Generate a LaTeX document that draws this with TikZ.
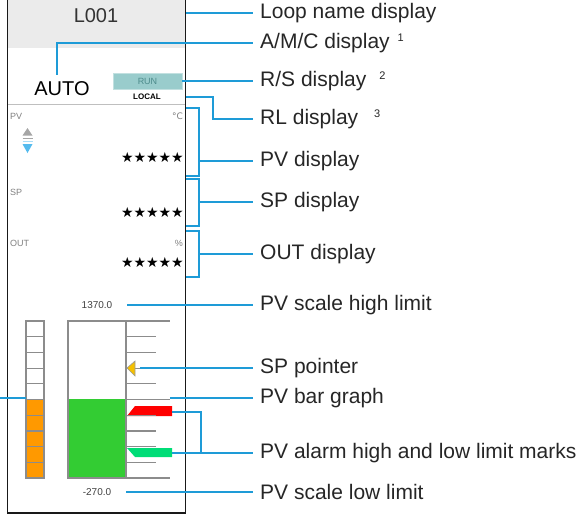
\documentclass[tikz,border=0pt]{standalone}
\usepackage{fontspec}
\setmainfont{Liberation Sans}
\newfontfamily\symfont{DejaVu Sans}
\usepackage{tikz}
\usetikzlibrary{positioning, calc}
\usepackage{xcolor}
\definecolor{callout}{HTML}{1E9BD7}
\definecolor{hdrgray}{HTML}{EBEBEB}
\definecolor{runfill}{HTML}{99CCCC}
\definecolor{runtext}{HTML}{4D8C8C}
\definecolor{barorange}{HTML}{FF9900}
\definecolor{bargreen}{HTML}{33CC33}
\definecolor{almhigh}{HTML}{FF0000}
\definecolor{almlow}{HTML}{00DD77}
\definecolor{spyellow}{HTML}{F5C000}
\definecolor{arrowblue}{HTML}{55BBEE}
\tikzset{
  lbl/.style={anchor=west, font=\fontsize{21}{25}\selectfont, text=black!85, inner xsep=7pt, inner ysep=0pt},
  lead/.style={callout, line width=1.2pt},
  tag/.style={font=\fontsize{9}{10}\selectfont, text=black!50, inner sep=0pt},
  stars/.style={font=\symfont\fontsize{14}{15}\selectfont, inner sep=0pt, anchor=east},
  scaleval/.style={font=\fontsize{10}{12}\selectfont, text=black!75, inner sep=0pt},
  tick/.style={black!45, line width=1.2pt},
}

\begin{document}
\begin{tikzpicture}[x=1pt, y=-1pt]
  \useasboundingbox (0,0) rectangle (587,515);
  % faceplate
  \fill[hdrgray] (7.5,0) rectangle (185.5,48);
  \draw[black!25, line width=1pt] (7.5,104) -- (185.5,104);
  \draw[black!90, line width=1.4pt] (7.5,0) -- (7.5,513) -- (185.5,513) -- (185.5,0);
  \node[font=\fontsize{20}{24}\selectfont, text=black!80] (loop) at (96,16) {L001};
  \node[font=\fontsize{20}{24}\selectfont, inner sep=0pt] (auto) at (62,89) {AUTO};
  \node[fill=runfill, draw=runfill!60!white, minimum width=69pt, minimum height=16pt, inner sep=0pt,
        font=\fontsize{9}{10}\selectfont, text=runtext] (run) at (147.5,81) {RUN};
  \node[font=\bfseries\fontsize{8}{9}\selectfont, inner sep=0pt] (local) at (147,97) {LOCAL};
  % PV / SP / OUT
  \node[tag, anchor=west] (pvtag) at (10,116) {PV};
  \node[tag, anchor=east] (pvunit) at (183,116) {\symfont °C};
  \fill[black!35] (22.5,135.5) -- (32.5,135.5) -- (27.5,128) -- cycle;
  \draw[black!35, line width=1.5pt] (22.5,138.5) -- (32.5,138.5);
  \draw[arrowblue!50, line width=1.5pt] (22.5,141.5) -- (32.5,141.5);
  \fill[arrowblue] (22.5,144) -- (32.5,144) -- (27.5,153) -- cycle;
  \node[stars] (pvval) at (184,157) {★★★★★};
  \node[tag, anchor=west] (sptag) at (10,192) {SP};
  \node[stars] (spval) at (184,212) {★★★★★};
  \node[tag, anchor=west] (outtag) at (10,243) {OUT};
  \node[tag, anchor=east] (outunit) at (183,243) {\%};
  \node[stars] (outval) at (184,262) {★★★★★};
  % bar graph
  \node[scaleval] (hival) at (97,305) {1370.0};
  \node[scaleval] (loval) at (97,492) {-270.0};
  \foreach \i in {0,...,9} {
    \pgfmathsetmacro\y{321+15.7*\i}
    \ifnum\i<5
      \draw[black!45, line width=1.2pt, fill=white] (26,\y) rectangle ++(18,15.7);
    \else
      \draw[black!45, line width=1.2pt, fill=barorange] (26,\y) rectangle ++(18,15.7);
    \fi
  }
  \fill[bargreen] (68,399) rectangle (126,478);
  \draw[black!45, line width=1.2pt] (68,321) rectangle (126,478);
  \fill[almhigh] (127,416) -- (135,406) -- (172,406) -- (172,416) -- cycle;
  \fill[almlow] (127,448) -- (172,448) -- (172,457) -- (135,457) -- cycle;
  \foreach \i in {0,...,10} {
    \pgfmathsetmacro\len{mod(\i,5)==0 ? 44 : 30}
    \draw[tick] (126,321+15.7*\i) -- ++(\len,0);
  }
  \fill[spyellow, draw=black!40, line width=0.6pt] (127,368) -- (135,361) -- (135,376) -- cycle;
  \coordinate (sppt) at (135,368);
  \coordinate (almhi) at (172,412);
  \coordinate (almlo) at (172,453);
  \coordinate (pvbar) at (170,398);
  \coordinate (ladder) at (26,398);
  \coordinate (edge) at (0,398);
  % labels
  \node[lbl] (lLoop) at (253,13) {Loop name display};
  \node[lbl] (lAmc) at (253,43) {A/M/C display\hspace{8pt}\raisebox{7pt}{\fontsize{11}{12}\selectfont 1}};
  \node[lbl] (lRs) at (253,81) {R/S display\hspace{13pt}\raisebox{7pt}{\fontsize{11}{12}\selectfont 2}};
  \node[lbl] (lRl) at (253,119) {RL display\hspace{16pt}\raisebox{7pt}{\fontsize{11}{12}\selectfont 3}};
  \node[lbl] (lPv) at (253,161) {PV display};
  \node[lbl] (lSp) at (253,202) {SP display};
  \node[lbl] (lOut) at (253,254) {OUT display};
  \node[lbl] (lHi) at (253,305) {PV scale high limit};
  \node[lbl] (lPtr) at (253,368) {SP pointer};
  \node[lbl] (lBar) at (253,398) {PV bar graph};
  \node[lbl] (lAlm) at (253,453) {PV alarm high and low limit marks};
  \node[lbl] (lLo) at (253,492) {PV scale low limit};
  % leaders
  \draw[lead] (186,13) -- (lLoop.west);
  \draw[lead] ($(auto.north)+(-5,-7)$) |- (lAmc.west);
  \draw[lead] (run.east) -- (lRs.west);
  \draw[lead] (186,97) -- ++(27,0) |- (lRl.west);
  \draw[lead] (186,108) -| (199,176) -- (186,176);
  \draw[lead] (199,161) -- (lPv.west);
  \draw[lead] (186,179) -| (199,226) -- (186,226);
  \draw[lead] (199,202) -- (lSp.west);
  \draw[lead] (186,231) -| (199,277) -- (186,277);
  \draw[lead] (199,254) -- (lOut.west);
  \draw[lead, shorten <=15pt] (hival.east) -- (lHi.west);
  \draw[lead, shorten <=5pt] (sppt) -- (lPtr.west);
  \draw[lead] (pvbar) -- (lBar.west);
  \draw[lead] (almhi) -| (201,453);
  \draw[lead] (almlo) -- (lAlm.west);
  \draw[lead, shorten <=15pt] (loval.east) -- (lLo.west);
  \draw[lead] (edge) -- (ladder);
\end{tikzpicture}
\end{document}
